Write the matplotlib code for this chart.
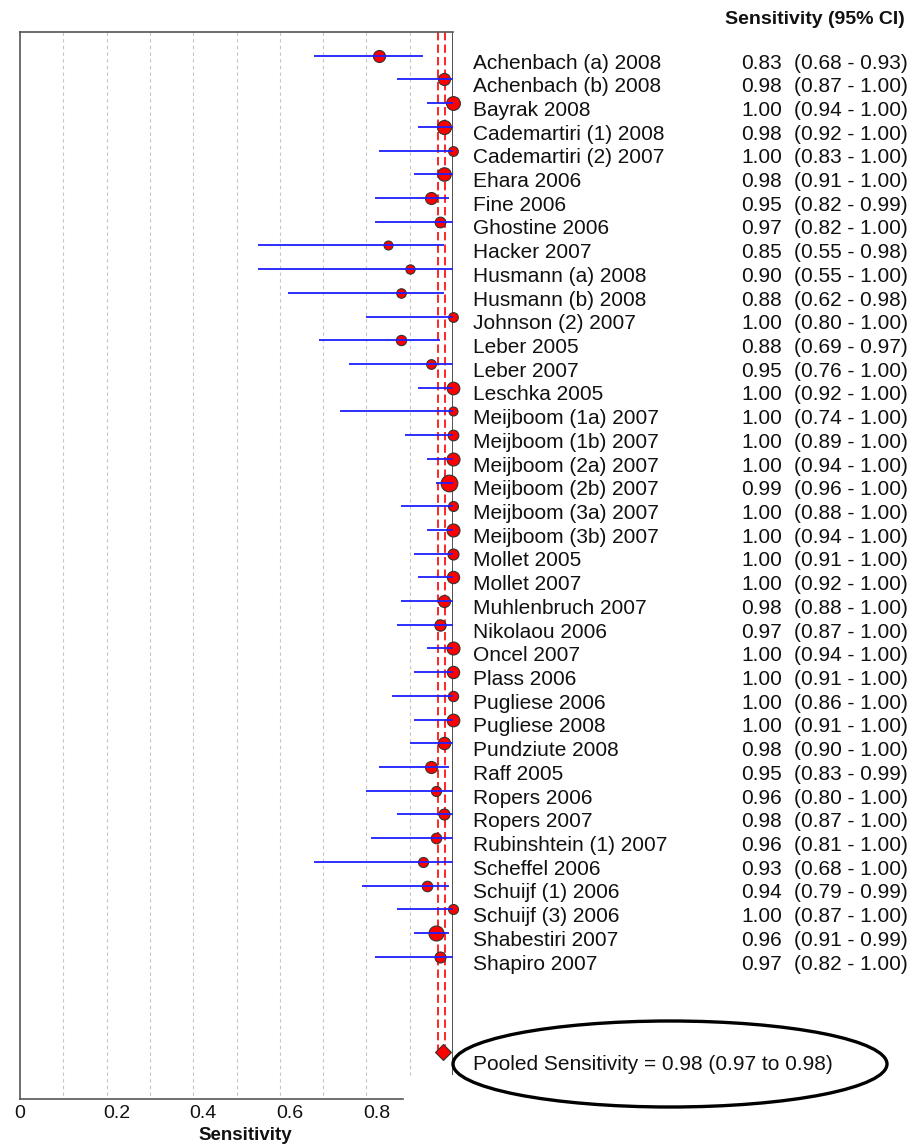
import matplotlib
matplotlib.use("Agg")
import matplotlib.pyplot as plt
from matplotlib.patches import Ellipse
from matplotlib.transforms import blended_transform_factory, ScaledTranslation

plt.rcParams['font.family'] = ['Liberation Sans', 'DejaVu Sans']

# ---- study-level data -------------------------------------------------
studies = [
    "Achenbach (a) 2008", "Achenbach (b) 2008", "Bayrak 2008",
    "Cademartiri (1) 2008", "Cademartiri (2) 2007", "Ehara 2006", "Fine 2006",
    "Ghostine 2006", "Hacker 2007", "Husmann (a) 2008", "Husmann (b) 2008",
    "Johnson (2) 2007", "Leber 2005", "Leber 2007", "Leschka 2005",
    "Meijboom (1a) 2007", "Meijboom (1b) 2007", "Meijboom (2a) 2007",
    "Meijboom (2b) 2007", "Meijboom (3a) 2007", "Meijboom (3b) 2007",
    "Mollet 2005", "Mollet 2007", "Muhlenbruch 2007", "Nikolaou 2006",
    "Oncel 2007", "Plass 2006", "Pugliese 2006", "Pugliese 2008",
    "Pundziute 2008", "Raff 2005", "Ropers 2006", "Ropers 2007",
    "Rubinshtein (1) 2007", "Scheffel 2006", "Schuijf (1) 2006",
    "Schuijf (3) 2006", "Shabestiri 2007", "Shapiro 2007",
]
sensitivity = [0.83, 0.98, 1.00, 0.98, 1.00, 0.98, 0.95, 0.97, 0.85, 0.90,
               0.88, 1.00, 0.88, 0.95, 1.00, 1.00, 1.00, 1.00, 0.99, 1.00,
               1.00, 1.00, 1.00, 0.98, 0.97, 1.00, 1.00, 1.00, 1.00, 0.98,
               0.95, 0.96, 0.98, 0.96, 0.93, 0.94, 1.00, 0.96, 0.97]
ci_low = [0.68, 0.87, 0.94, 0.92, 0.83, 0.91, 0.82, 0.82, 0.55, 0.55,
          0.62, 0.80, 0.69, 0.76, 0.92, 0.74, 0.89, 0.94, 0.96, 0.88,
          0.94, 0.91, 0.92, 0.88, 0.87, 0.94, 0.91, 0.86, 0.91, 0.90,
          0.83, 0.80, 0.87, 0.81, 0.68, 0.79, 0.87, 0.91, 0.82]
ci_high = [0.93, 1.00, 1.00, 1.00, 1.00, 1.00, 0.99, 1.00, 0.98, 1.00,
           0.98, 1.00, 0.97, 1.00, 1.00, 1.00, 1.00, 1.00, 1.00, 1.00,
           1.00, 1.00, 1.00, 1.00, 1.00, 1.00, 1.00, 1.00, 1.00, 1.00,
           0.99, 1.00, 1.00, 1.00, 1.00, 0.99, 1.00, 0.99, 1.00]
# relative study weights (drive marker area)
weight = [1.44, 1.44, 1.90, 1.96, 0.94, 1.82, 1.44, 1.14, 0.81, 0.86,
          0.90, 0.94, 1.06, 0.94, 1.61, 0.81, 1.14, 1.69, 2.79, 1.00,
          1.69, 1.21, 1.51, 1.44, 1.28, 1.69, 1.51, 1.06, 1.61, 1.51,
          1.44, 1.00, 1.21, 1.10, 1.00, 1.10, 1.00, 2.25, 1.21]

# pooled estimate
pooled = 0.976
pooled_low = 0.966
pooled_high = 0.982

xticks = [0, 0.2, 0.4, 0.6, 0.8]
xticklabels = ["0", "0.2", "0.4", "0.6", "0.8"]
gridlines = [0.1, 0.2, 0.3, 0.4, 0.5, 0.6, 0.7, 0.8, 0.9]

# ---- figure layout (pixel based) ---------------------------------------
W, H = 921, 1145
fig = plt.figure(figsize=(W / 100, H / 100), dpi=100)
ax_left, ax_right, ax_top, ax_bottom = 20, 453, 32, 1099
ax = fig.add_axes([ax_left / W, 1 - ax_bottom / H,
                   (ax_right - ax_left) / W, (ax_bottom - ax_top) / H])
n = len(studies)
pooled_row = n + 3
ax.set_xlim(0, 1)
ax.set_ylim(pooled_row + 2, -1)
rows = list(range(n))

# grid
for g in gridlines:
    ymax_row = pooled_row + 2 if g < 0.885 else pooled_row + 1
    ax.vlines(g, -1, ymax_row, colors='#c4c4c4', linestyles=(0, (3, 3)),
              linewidth=0.8, zorder=1)

# reference line at sensitivity = 1
ax.vlines(1.0, -1, pooled_row + 1, colors='#333333', linewidth=1.2, zorder=2)

# pooled confidence bounds
for v in (pooled_low, pooled_high):
    ax.vlines(v, -1, pooled_row, colors='red', linestyles=(0, (5, 2.5)),
              linewidth=1.2, zorder=2)

# study points and confidence intervals
for i in rows:
    d = 10.0 * weight[i] ** 0.5
    ax.plot(sensitivity[i], i, 'o', ms=d * 0.72, mfc='red', mec='#333333',
            mew=0.8, zorder=3, clip_on=False)
    ax.hlines(i, ci_low[i], ci_high[i], colors='#1f1fff', linewidth=1.3,
              zorder=4, clip_on=False)

# pooled diamond
ax.plot(pooled, pooled_row, 'D', ms=8.6, mfc='red', mec='#333333', mew=0.8,
        zorder=5, clip_on=False)

# spines and ticks
ax.spines['right'].set_visible(False)
for s in ('left', 'top', 'bottom'):
    ax.spines[s].set_color('#555555')
    ax.spines[s].set_linewidth(1.2)
ax.spines['bottom'].set_bounds(0, 0.885)
ax.set_yticks([])
ax.set_xticks(xticks)
ax.set_xticklabels(xticklabels, fontsize=14, color='#111111')
ax.tick_params(axis='x', length=0, pad=4)
shift = ScaledTranslation(0.1, 0, fig.dpi_scale_trans)
for lab in ax.get_xticklabels()[1:]:
    lab.set_transform(lab.get_transform() + shift)

fig.text(245 / W, 1 - 1135 / H, "Sensitivity", fontsize=13.5,
         fontweight='bold', ha='center', va='center', color='#111111')

# text table to the right of the plot
tr = blended_transform_factory(fig.transFigure, ax.transData)
fs = 15
fig.text(815 / W, 1 - 19 / H, "Sensitivity (95% CI)", fontsize=14,
         fontweight='bold', ha='center', va='center', color='#111111')
for i in rows:
    yb = i + 0.54
    ax.text(473 / W, yb, studies[i], transform=tr, fontsize=fs,
            ha='left', va='baseline', color='#111111', clip_on=False)
    ax.text(782 / W, yb, f"{sensitivity[i]:.2f}", transform=tr, fontsize=fs,
            ha='right', va='baseline', color='#111111', clip_on=False)
    ax.text(794 / W, yb, f"({ci_low[i]:.2f} - {ci_high[i]:.2f})", transform=tr,
            fontsize=fs, ha='left', va='baseline', color='#111111',
            clip_on=False)

ax.text(473 / W, pooled_row + 0.78,
        f"Pooled Sensitivity = {pooled:.2f} ({pooled_low:.2f} to {pooled_high:.2f})",
        transform=tr, fontsize=fs, ha='left', va='baseline', color='#111111',
        clip_on=False)

fig.add_artist(Ellipse((670 / W, 1 - 1064 / H), 434 / W, 86 / H,
                       transform=fig.transFigure, fill=False,
                       edgecolor='black', linewidth=2.4))

fig.savefig("out.png", dpi=100)
